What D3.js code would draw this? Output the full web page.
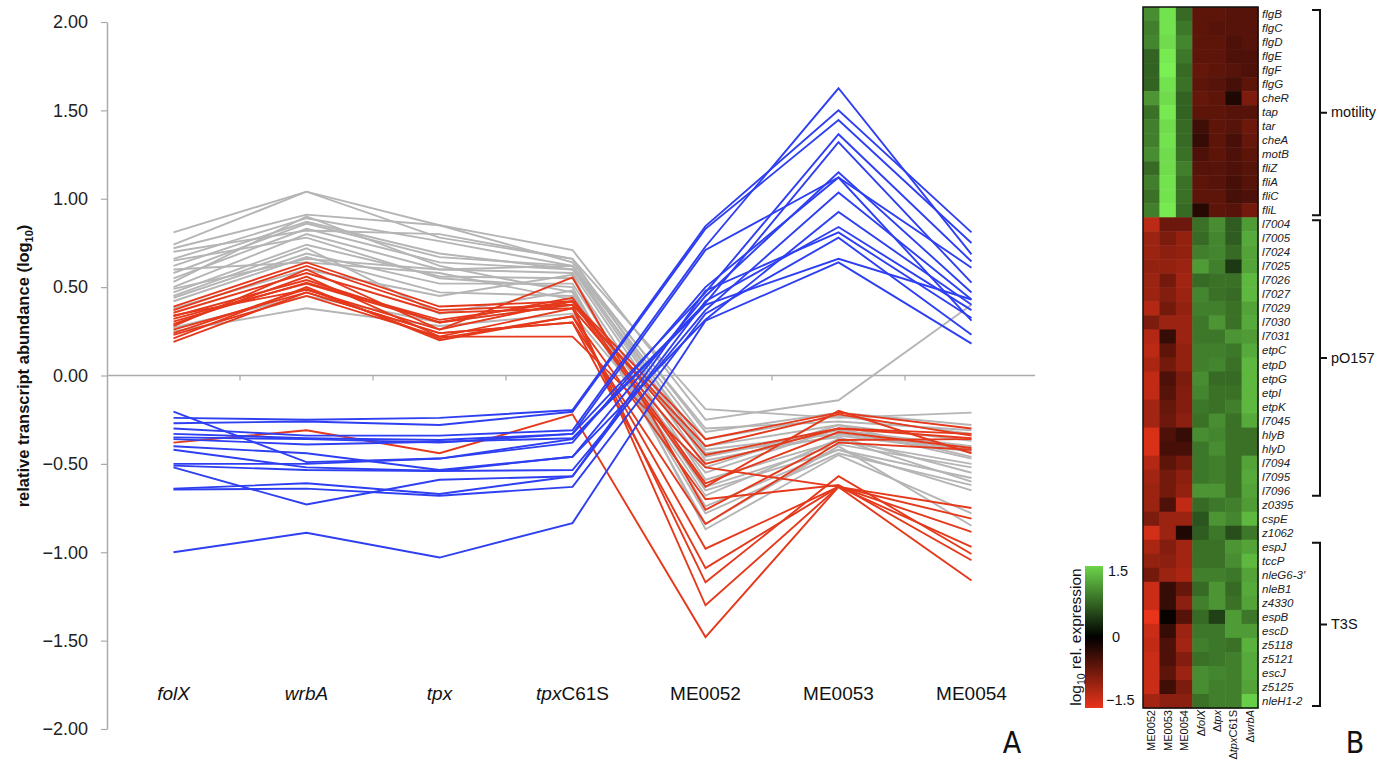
<!DOCTYPE html>
<html>
<head>
<meta charset="utf-8">
<script src="https://cdn.jsdelivr.net/npm/d3@7"></script>
<style>
  body { margin: 0; background: #fff; }
  svg { display: block; font-family: "Liberation Sans", Arial, sans-serif; }
</style>
</head>
<body>
<svg id="chart" width="1382" height="761"></svg>
<script>
// ---- panel A: line chart data ----
var categories = ["folX", "wrbA", "tpx", "tpxC61S", "ME0052", "ME0053", "ME0054"];
var categoryItalic = ["folX", "wrbA", "tpx", "tpx", "", "", ""];
var yTicks = [-2, -1.5, -1, -0.5, 0, 0.5, 1, 1.5, 2];

// pO157-like genes (grey)
var greyLines = [
  [0.81, 1.04, 0.78, 0.66, -0.19, -0.24, -0.21],
  [0.74, 1.04, 0.85, 0.71, -0.25, -0.14, 0.40],
  [0.72, 0.91, 0.85, 0.64, -0.32, -0.21, -0.28],
  [0.66, 0.89, 0.76, 0.62, -0.36, -0.23, -0.33],
  [0.62, 0.87, 0.69, 0.60, -0.40, -0.28, -0.37],
  [0.58, 0.86, 0.67, 0.62, -0.46, -0.31, -0.40],
  [0.55, 0.83, 0.64, 0.60, -0.48, -0.34, -0.43],
  [0.50, 0.80, 0.60, 0.58, -0.52, -0.28, -0.46],
  [0.47, 0.74, 0.56, 0.55, -0.59, -0.37, -0.50],
  [0.44, 0.69, 0.52, 0.52, -0.63, -0.39, -0.52],
  [0.42, 0.67, 0.47, 0.45, -0.65, -0.42, -0.58],
  [0.60, 0.64, 0.58, 0.43, -0.68, -0.36, -0.60],
  [0.53, 0.90, 0.62, 0.47, -0.74, -0.42, -0.65],
  [0.65, 0.78, 0.55, 0.50, -0.84, -0.40, -0.85],
  [0.38, 0.60, 0.45, 0.57, -0.87, -0.45, -0.78],
  [0.27, 0.45, 0.30, 0.40, -0.42, -0.33, -0.42],
  [0.25, 0.38, 0.28, 0.35, -0.55, -0.30, -0.47],
  [0.49, 0.66, 0.60, 0.62, -0.30, -0.26, -0.31],
  [0.70, 0.82, 0.80, 0.66, -0.44, -0.35, -0.55],
  [0.45, 0.72, 0.35, 0.48, -0.78, -0.44, -0.62]
];

// T3S and others (red)
var redLines = [
  [0.39, 0.64, 0.39, 0.42, -0.36, -0.21, -0.30],
  [0.37, 0.62, 0.37, 0.40, -0.40, -0.22, -0.34],
  [0.355, 0.58, 0.355, 0.38, -0.50, -0.30, -0.355],
  [0.335, 0.54, 0.30, 0.44, -0.61, -0.32, -0.41],
  [0.305, 0.525, 0.315, 0.42, -0.63, -0.20, -0.44],
  [0.34, 0.485, 0.26, 0.555, -0.76, -0.365, -0.36],
  [0.26, 0.47, 0.24, 0.30, -0.84, -0.38, -0.42],
  [0.23, 0.45, 0.22, 0.22, -0.52, -0.63, -0.75],
  [0.21, 0.50, 0.20, 0.335, -0.98, -0.63, -0.81],
  [0.19, 0.47, 0.24, 0.30, -1.09, -0.63, -0.885],
  [0.29, 0.56, 0.22, 0.38, -1.17, -0.57, -1.01],
  [0.32, 0.52, 0.30, 0.40, -1.30, -0.63, -1.16],
  [0.28, 0.60, 0.26, 0.42, -0.45, -0.30, -0.33],
  [0.24, 0.49, 0.21, 0.335, -0.70, -0.62, -1.045],
  [-0.38, -0.31, -0.44, -0.22, -1.48, -0.63, -0.97]
];

// motility genes (blue)
var blueLines = [
  [-0.205, -0.49, -0.47, -0.38, 0.50, 1.12, 0.61],
  [-0.24, -0.25, -0.24, -0.195, 0.845, 1.50, 0.81],
  [-0.27, -0.26, -0.28, -0.205, 0.83, 1.445, 0.75],
  [-0.30, -0.34, -0.34, -0.31, 0.73, 1.625, 0.685],
  [-0.33, -0.355, -0.365, -0.33, 0.47, 1.365, 0.645],
  [-0.36, -0.39, -0.375, -0.355, 0.41, 1.32, 0.525],
  [-0.40, -0.44, -0.535, -0.46, 0.45, 1.15, 0.47],
  [-0.42, -0.52, -0.54, -0.535, 0.37, 1.035, 0.43],
  [-0.51, -0.535, -0.54, -0.46, 0.315, 0.925, 0.40],
  [-0.52, -0.73, -0.59, -0.57, 0.42, 0.84, 0.37],
  [-0.64, -0.61, -0.67, -0.57, 0.48, 0.81, 0.325],
  [-0.645, -0.64, -0.68, -0.63, 0.35, 0.78, 0.23],
  [-1.0, -0.89, -1.03, -0.835, 0.31, 0.64, 0.18],
  [-0.35, -0.36, -0.38, -0.33, 0.71, 1.12, 0.31],
  [-0.50, -0.50, -0.47, -0.36, 0.40, 0.66, 0.43]
];

// ---- panel B: heatmap data ----
var heatColumns = ["ME0052", "ME0053", "ME0054", "\u0394folX", "\u0394tpx", "\u0394tpxC61S", "\u0394wrbA"];
var heatColumnItalic = ["", "", "", "folX", "tpx", "tpx", "wrbA"];
var genes = ["flgB", "flgC", "flgD", "flgE", "flgF", "flgG", "cheR", "tap", "tar", "cheA",
  "motB", "fliZ", "fliA", "fliC", "fliL",
  "l7004", "l7005", "l7024", "l7025", "l7026", "l7027", "l7029", "l7030", "l7031", "etpC",
  "etpD", "etpG", "etpI", "etpK", "l7045", "hlyB", "hlyD", "l7094", "l7095", "l7096",
  "z0395", "cspE", "z1062",
  "espJ", "tccP", "nleG6-3'", "nleB1", "z4330", "espB", "escD", "z5118", "z5121", "escJ",
  "z5125", "nleH1-2"];
var heatValues = [
  [1.0, 1.6, 0.75, -0.6, -0.6, -0.55, -0.55],
  [0.9, 1.6, 0.85, -0.6, -0.55, -0.55, -0.55],
  [0.95, 1.55, 0.95, -0.6, -0.6, -0.5, -0.55],
  [0.7, 1.65, 0.85, -0.6, -0.6, -0.5, -0.5],
  [0.7, 1.7, 0.75, -0.65, -0.6, -0.55, -0.5],
  [0.7, 1.6, 0.8, -0.6, -0.55, -0.45, -0.6],
  [1.05, 1.55, 0.7, -0.65, -0.6, -0.2, -0.8],
  [0.8, 1.65, 0.7, -0.6, -0.6, -0.55, -0.55],
  [0.9, 1.55, 0.75, -0.4, -0.6, -0.55, -0.7],
  [0.9, 1.6, 0.75, -0.35, -0.6, -0.45, -0.65],
  [1.0, 1.55, 0.8, -0.5, -0.6, -0.5, -0.6],
  [0.75, 1.55, 0.9, -0.55, -0.55, -0.5, -0.55],
  [0.9, 1.6, 0.8, -0.6, -0.55, -0.45, -0.55],
  [0.8, 1.6, 0.8, -0.6, -0.6, -0.45, -0.5],
  [0.9, 1.65, 0.75, -0.25, -0.6, -0.55, -0.75],
  [-1.2, -0.7, -0.7, 0.8, 1.0, 0.65, 1.1],
  [-1.0, -0.8, -0.95, 0.75, 0.95, 0.65, 1.2],
  [-1.0, -0.9, -0.95, 0.9, 0.95, 0.75, 1.15],
  [-0.95, -0.95, -1.0, 1.1, 0.9, 0.4, 1.15],
  [-1.0, -0.75, -1.05, 0.75, 0.8, 0.8, 1.3],
  [-1.0, -0.85, -1.0, 0.95, 0.8, 0.75, 1.3],
  [-1.15, -0.75, -0.95, 0.9, 0.9, 0.8, 1.15],
  [-0.8, -1.0, -1.0, 0.85, 1.05, 0.8, 1.2],
  [-1.15, -0.35, -1.0, 0.85, 0.85, 1.05, 1.1],
  [-1.2, -0.6, -0.95, 0.9, 0.9, 0.85, 1.2],
  [-1.1, -0.75, -0.95, 0.9, 0.95, 0.8, 1.3],
  [-1.25, -0.5, -0.8, 1.0, 0.75, 0.75, 1.3],
  [-1.25, -0.55, -0.85, 0.95, 0.8, 0.8, 1.3],
  [-1.05, -0.65, -0.85, 0.85, 0.8, 0.9, 1.3],
  [-1.05, -0.7, -0.9, 0.8, 1.0, 0.8, 1.2],
  [-1.4, -0.5, -0.35, 1.0, 0.95, 0.8, 0.8],
  [-1.4, -0.45, -0.45, 0.85, 1.0, 0.8, 0.8],
  [-1.15, -0.6, -0.75, 0.85, 0.9, 0.8, 1.15],
  [-1.05, -0.75, -0.9, 0.85, 0.9, 0.8, 1.2],
  [-1.0, -0.75, -0.95, 1.05, 1.05, 0.8, 1.15],
  [-1.0, -0.5, -1.25, 0.75, 0.85, 0.9, 1.1],
  [-0.8, -1.0, -1.0, 0.6, 1.05, 0.95, 1.3],
  [-1.35, -1.0, -0.2, 0.65, 0.85, 0.55, 0.85],
  [-1.1, -0.85, -1.05, 0.8, 0.8, 1.05, 1.15],
  [-0.95, -0.9, -1.05, 0.8, 0.8, 1.0, 1.3],
  [-0.75, -1.0, -1.1, 0.9, 0.9, 0.85, 1.15],
  [-1.3, -0.35, -0.65, 0.75, 1.05, 0.75, 1.2],
  [-1.3, -0.35, -0.9, 0.9, 1.05, 0.8, 1.15],
  [-1.5, -0.05, -0.55, 0.75, 0.45, 1.1, 0.85],
  [-1.3, -0.35, -1.0, 0.85, 0.85, 1.1, 1.1],
  [-1.25, -0.5, -1.05, 0.9, 0.85, 0.8, 1.25],
  [-1.3, -0.5, -0.85, 0.8, 0.85, 0.9, 1.2],
  [-1.3, -0.6, -1.0, 1.0, 0.95, 0.9, 1.2],
  [-1.3, -0.4, -0.8, 1.0, 0.9, 0.9, 1.15],
  [-1.05, -0.9, -0.9, 0.8, 0.9, 0.9, 1.45]
];
var geneGroups = [
  { name: "motility", first: 0, last: 14 },
  { name: "pO157", first: 15, last: 34 },
  { name: "T3S", first: 38, last: 49 }
];
var legendTicks = [1.5, 0, -1.5];

var svg = d3.select("#chart");

// ================= PANEL A =================
var x = d3.scaleBand().domain(categories).range([107, 1038]);
var y = d3.scaleLinear().domain([-2, 2]).range([729, 22]);

var yAxis = svg.append("g")
  .attr("transform", "translate(107,0)")
  .call(d3.axisLeft(y).tickValues(yTicks).tickFormat(d3.format(".2f"))
    .tickSize(6).tickSizeOuter(0).tickPadding(13));
yAxis.select(".domain").attr("stroke", "#aaa").attr("stroke-width", 1.5);
yAxis.selectAll(".tick line").attr("stroke", "#aaa").attr("stroke-width", 1.2);
yAxis.selectAll(".tick text")
  .attr("fill", "#222")
  .style("font-size", "18px")
  .style("font-family", "'Liberation Sans', Arial, sans-serif");

// zero line with ticks between categories
svg.append("line")
  .attr("x1", 107).attr("x2", x.range()[1] - 3)
  .attr("y1", y(0)).attr("y2", y(0))
  .attr("stroke", "#aaa").attr("stroke-width", 1.5);
svg.selectAll(".cat-tick")
  .data(categories.slice(1))
  .enter().append("line")
  .attr("class", "cat-tick")
  .attr("x1", function(d) { return x(d); })
  .attr("x2", function(d) { return x(d); })
  .attr("y1", y(0)).attr("y2", y(0) + 5)
  .attr("stroke", "#aaa").attr("stroke-width", 1.2);

var line = d3.line()
  .x(function(d, i) { return x(categories[i]) + x.bandwidth() / 2; })
  .y(function(d) { return y(d); });

function drawLines(data, colour) {
  svg.append("g").selectAll("path")
    .data(data)
    .enter().append("path")
    .attr("d", line)
    .attr("fill", "none")
    .attr("stroke", colour)
    .attr("stroke-width", 1.9)
    .attr("stroke-linejoin", "miter");
}
drawLines(greyLines, "#b5b5b5");
drawLines(redLines, "#e5391c");
drawLines(blueLines, "#2e3ff2");

// category labels
var catLabels = svg.selectAll(".cat-label")
  .data(categories)
  .enter().append("text")
  .attr("class", "cat-label")
  .attr("x", function(d) { return x(d) + x.bandwidth() / 2; })
  .attr("y", 700)
  .attr("text-anchor", "middle")
  .attr("fill", "#111")
  .style("font-size", "19px");
catLabels.each(function(d, i) {
  var t = d3.select(this);
  var it = categoryItalic[i];
  if (it) t.append("tspan").style("font-style", "italic").text(it);
  if (d.length > it.length) t.append("tspan").text(d.slice(it.length));
});

// y title
var yTitle = svg.append("text")
  .attr("transform", "translate(29,366) rotate(-90)")
  .attr("text-anchor", "middle")
  .attr("fill", "#111")
  .style("font-size", "16.5px")
  .style("font-weight", "bold");
yTitle.append("tspan").text("relative transcript abundance (log");
yTitle.append("tspan").attr("dy", 4).style("font-size", "11px").text("10");
yTitle.append("tspan").attr("dy", -4).text(")");

svg.append("text")
  .attr("x", 1012).attr("y", 753)
  .attr("text-anchor", "middle")
  .attr("fill", "#111")
  .style("font-family", "'Liberation Sans Narrow', 'DejaVu Sans Condensed', sans-serif")
  .style("font-size", "30px")
  .text("A");

// ================= PANEL B =================
var hx = d3.scaleBand().domain(d3.range(heatColumns.length)).range([1143, 1258]);
var hy = d3.scaleBand().domain(d3.range(genes.length)).range([7, 708]);
var colour = d3.scaleLinear()
  .domain([-1.5, 0, 1.5])
  .range(["#e8341a", "#000000", "#6cd44a"]);

var rows = svg.append("g").selectAll("g")
  .data(heatValues)
  .enter().append("g")
  .attr("transform", function(d, i) { return "translate(0," + hy(i) + ")"; });
rows.selectAll("rect")
  .data(function(d) { return d; })
  .enter().append("rect")
  .attr("x", function(d, j) { return hx(j); })
  .attr("width", hx.bandwidth() + 0.5)
  .attr("height", hy.bandwidth() + 0.5)
  .attr("fill", function(d) { return colour(d); });

svg.append("rect")
  .attr("x", 1143).attr("y", 7)
  .attr("width", 115).attr("height", 701)
  .attr("fill", "none").attr("stroke", "#111").attr("stroke-width", 1.5);

// gene labels
svg.selectAll(".gene")
  .data(genes)
  .enter().append("text")
  .attr("class", "gene")
  .attr("x", 1262)
  .attr("y", function(d, i) { return hy(i) + hy.bandwidth() / 2 + 4; })
  .attr("fill", "#222")
  .style("font-size", "11.5px")
  .style("font-style", "italic")
  .text(function(d) { return d; });

// group brackets
var brackets = svg.selectAll(".bracket")
  .data(geneGroups)
  .enter().append("g")
  .attr("class", "bracket");
brackets.append("path")
  .attr("d", function(d) {
    var top = hy(d.first) + 3, bot = hy(d.last) + hy.bandwidth() - 2;
    var mid = (top + bot) / 2;
    return "M1312," + top + "H1320V" + bot + "H1312M1320," + mid + "H1327";
  })
  .attr("fill", "none").attr("stroke", "#111").attr("stroke-width", 2);
brackets.append("text")
  .attr("x", 1331)
  .attr("y", function(d) { return (hy(d.first) + hy(d.last) + hy.bandwidth()) / 2 + 5; })
  .attr("fill", "#111")
  .style("font-size", "14.5px")
  .text(function(d) { return d.name; });

// column labels (rotated under the heatmap)
var colLabels = svg.selectAll(".col-label")
  .data(heatColumns)
  .enter().append("text")
  .attr("class", "col-label")
  .attr("transform", function(d, j) {
    return "translate(" + (hx(j) + hx.bandwidth() / 2 + 4) + ",710) rotate(-90)";
  })
  .attr("text-anchor", "end")
  .attr("fill", "#111")
  .style("font-size", "11px");
colLabels.each(function(d, j) {
  var t = d3.select(this);
  var it = heatColumnItalic[j];
  if (!it) { t.text(d); return; }
  var pre = d.indexOf(it);
  t.append("tspan").text(d.slice(0, pre));
  t.append("tspan").style("font-style", "italic").text(it);
  if (pre + it.length < d.length) t.append("tspan").text(d.slice(pre + it.length));
});

// colour legend
var defs = svg.append("defs");
var grad = defs.append("linearGradient")
  .attr("id", "legend-grad")
  .attr("x1", 0).attr("x2", 0).attr("y1", 0).attr("y2", 1);
grad.selectAll("stop")
  .data(legendTicks)
  .enter().append("stop")
  .attr("offset", function(d, i) { return (i / (legendTicks.length - 1) * 100) + "%"; })
  .attr("stop-color", function(d) { return colour(d); });

var legY = d3.scaleLinear().domain([1.5, -1.5]).range([566, 708]);
svg.append("rect")
  .attr("x", 1085).attr("y", legY(1.5))
  .attr("width", 18).attr("height", legY(-1.5) - legY(1.5))
  .attr("fill", "url(#legend-grad)");
svg.selectAll(".leg-label")
  .data(legendTicks)
  .enter().append("text")
  .attr("class", "leg-label")
  .attr("x", function(d) { return d === 0 ? 1112 : (d < 0 ? 1106 : 1108); })
  .attr("y", function(d) { return legY(d) + (d > 0 ? 10 : d < 0 ? -3 : 5); })
  .attr("fill", "#111")
  .style("font-size", "14.5px")
  .text(function(d) { return d === 0 ? "0" : d3.format(".1f")(d); });

var legTitle = svg.append("text")
  .attr("transform", "translate(1081,637) rotate(-90)")
  .attr("text-anchor", "middle")
  .attr("fill", "#111")
  .style("font-size", "15.5px");
legTitle.append("tspan").text("log");
legTitle.append("tspan").attr("dy", 4).style("font-size", "10.5px").text("10");
legTitle.append("tspan").attr("dy", -4).text(" rel. expression");

svg.append("text")
  .attr("x", 1355).attr("y", 753)
  .attr("text-anchor", "middle")
  .attr("fill", "#111")
  .style("font-family", "'Liberation Sans Narrow', 'DejaVu Sans Condensed', sans-serif")
  .style("font-size", "30px")
  .text("B");
</script>
</body>
</html>
